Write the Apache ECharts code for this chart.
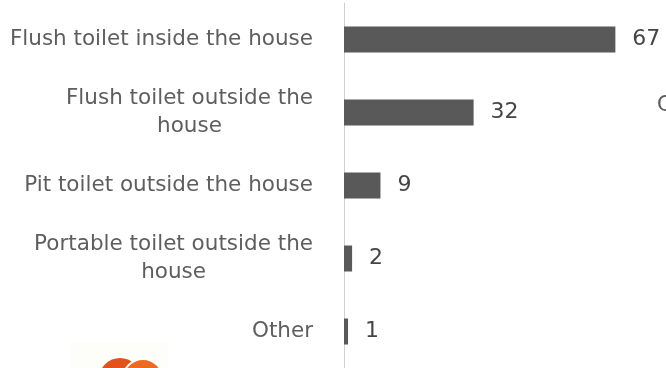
<!DOCTYPE html>
<html>
<head>
<meta charset="utf-8">
<script src="https://cdn.jsdelivr.net/npm/echarts@6/dist/echarts.min.js"></script>
<style>
html,body{margin:0;padding:0;background:#fff;}
#chart{width:666px;height:368px;}
</style>
</head>
<body>
<div id="chart"></div>
<script>
const categories = [
  'Flush toilet inside the house',
  'Flush toilet outside the\nhouse',
  'Pit toilet outside the house',
  'Portable toilet outside the\nhouse',
  'Other'
];
const values = [67, 32, 9, 2, 1];
const xMax = 79.5;

const FONT = '"DejaVu Sans", sans-serif';
const chart = echarts.init(document.getElementById('chart'), null, {renderer: 'canvas'});
chart.setOption({
  animation: false,
  backgroundColor: '#ffffff',
  grid: {left: 344, right: 0, top: 3, bottom: -4, containLabel: false},
  xAxis: {
    type: 'value', min: 0, max: xMax, show: false
  },
  yAxis: {
    type: 'category',
    data: categories,
    inverse: true,
    axisLine: {show: true, lineStyle: {color: '#d0d0d0', width: 1}},
    axisTick: {show: false},
    axisLabel: {
      margin: 31,
      color: '#5e5e5e',
      fontFamily: FONT,
      fontSize: 21.5,
      formatter: function (v) {
        return v.split('\n').map(function (s) { return '{c|' + s + '}'; }).join('\n');
      },
      rich: {
        c: {align: 'center', color: '#5e5e5e', fontFamily: FONT, fontSize: 21.5, lineHeight: 28}
      }
    }
  },
  series: [{
    type: 'bar',
    data: values,
    barWidth: 26,
    itemStyle: {color: '#595959'},
    label: {
      show: true,
      position: 'right',
      distance: 17,
      color: '#454545',
      fontFamily: FONT,
      fontSize: 22
    }
  }],
  graphic: [
    {type: 'text', left: 657, top: 95, style: {text: 'C', fill: '#595959', font: '21px ' + FONT}},
    {type: 'rect', shape: {x: 70, y: 342, width: 98, height: 28}, style: {fill: '#fdfdf9'}},
    {type: 'circle', shape: {cx: 120, cy: 379, r: 21}, style: {fill: '#e4521b'}},
    {type: 'circle', shape: {cx: 143, cy: 379, r: 20}, style: {fill: '#ee6a22', stroke: '#ffffff', lineWidth: 2}}
  ]
});
</script>
</body>
</html>
